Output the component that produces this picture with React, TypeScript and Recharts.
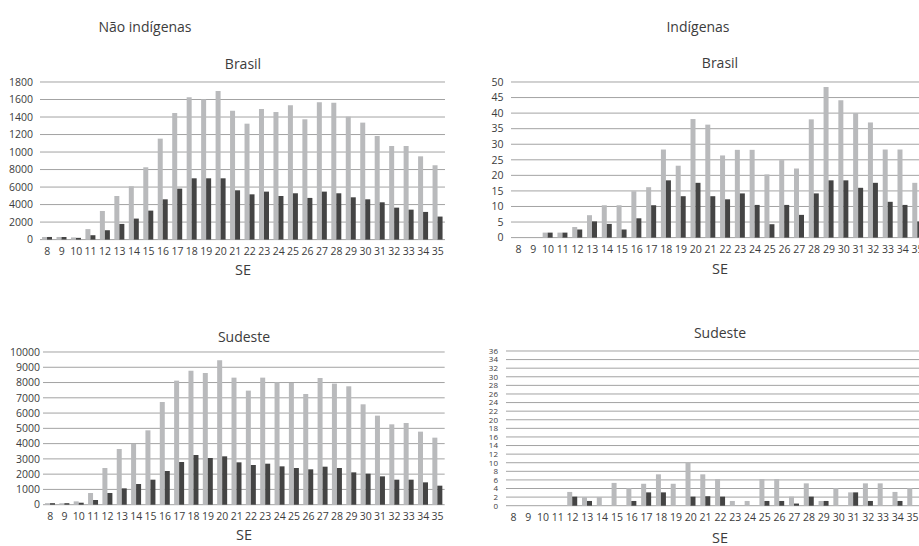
import React from "react"
import { BarChart, Bar, XAxis, YAxis, CartesianGrid } from "recharts"

const weeks = [
  "8", "9", "10", "11", "12", "13", "14", "15", "16", "17", "18", "19", "20", "21",
  "22", "23", "24", "25", "26", "27", "28", "29", "30", "31", "32", "33", "34", "35",
]

// Não indígenas - Brasil
const brasilNaoIndClaro = [
  30, 30, 25, 120, 327, 498, 609, 826, 1153, 1446, 1625, 1602, 1697, 1473,
  1324, 1491, 1457, 1534, 1374, 1568, 1564, 1404, 1336, 1183, 1069, 1069, 951, 849,
]
const brasilNaoIndEscuro = [
  30, 30, 20, 50, 107, 179, 240, 331, 460, 582, 700, 700, 700, 563,
  517, 548, 498, 529, 476, 548, 529, 483, 460, 426, 365, 342, 316, 263,
]
const brasilNaoIndTicks = [0, 200, 400, 600, 800, 1000, 1200, 1400, 1600, 1800]
const brasilNaoIndTickLabels = ["0", "2000", "4000", "6000", "8000", "1000", "1200", "1400", "1600", "1800"]

// Indígenas - Brasil
const brasilIndClaro = [
  0, 0, 1.6, 1.6, 3.4, 7.2, 10.4, 10.4, 14.9, 16.2, 28.3, 23.1, 38.1, 36.3,
  26.4, 28.2, 28.2, 20.3, 24.9, 22.2, 38, 48.4, 44.1, 40, 37, 28.3, 28.3, 17.6,
]
const brasilIndEscuro = [
  0, 0, 1.6, 1.6, 2.6, 5.2, 4.4, 2.6, 6.2, 10.4, 18.4, 13.3, 17.6, 13.3,
  12.3, 14.2, 10.5, 4.3, 10.5, 7.3, 14.2, 18.4, 18.4, 16, 17.6, 11.5, 10.5, 5.2,
]
const brasilIndTicks = [0, 5, 10, 15, 20, 25, 30, 35, 40, 45, 50]

// Não indígenas - Sudeste
const sudesteNaoIndClaro = [
  100, 100, 218, 764, 2402, 3647, 3975, 4870, 6727, 8124, 8780, 8626, 9456, 8321,
  7469, 8321, 8015, 7971, 7250, 8299, 7928, 7753, 6574, 5831, 5263, 5351, 4783, 4390,
]
const sudesteNaoIndEscuro = [
  100, 100, 130, 306, 764, 1070, 1354, 1638, 2206, 2795, 3254, 3057, 3167, 2774,
  2599, 2686, 2511, 2402, 2315, 2490, 2402, 2118, 2031, 1856, 1638, 1638, 1463, 1245,
]
const sudesteNaoIndTicks = [0, 1000, 2000, 3000, 4000, 5000, 6000, 7000, 8000, 9000, 10000]

// Indígenas - Sudeste
const sudesteIndClaro = [
  0, 0, 0, 0, 3.2, 2, 2, 5.3, 4.1, 5.1, 7.3, 5.1, 10, 7.3,
  6.2, 1.1, 1.1, 6.2, 6.2, 2.1, 5.2, 1.1, 4.1, 3.1, 5.2, 5.2, 3.2, 4.1,
]
const sudesteIndEscuro = [
  0, 0, 0, 0, 2.1, 1.1, 0, 0, 1.1, 3.1, 3.1, 0, 2.1, 2.2,
  2.1, 0, 0, 1.1, 1.1, 0.5, 2.1, 1.1, 0, 3.1, 1.1, 0, 1.1, 0,
]
const sudesteIndTicks = [0, 2, 4, 6, 8, 10, 12, 14, 16, 18, 20, 22, 24, 26, 28, 30, 32, 34, 36]

const FONT = "'Open Sans', 'Noto Sans', sans-serif"
const TEXT = "#3c3c3c"
const LIGHT = "#b9babc"
const DARK = "#444444"
const GRID = "#a3a3a3"

interface PanelProps {
  claro: number[]
  escuro: number[]
  ticks: number[]
  tickLabels?: string[]
  plotLeft: number
  plotRight: number
  plotTop: number
  plotBottom: number
  yWidth: number
  yMargin: number
  yFont: number
}

function Panel({ claro, escuro, ticks, tickLabels, plotLeft, plotRight, plotTop, plotBottom, yWidth, yMargin, yFont }: PanelProps) {
  const data = weeks.map((se, i) => ({ se, claro: claro[i], escuro: escuro[i] }))
  const left = plotLeft - yWidth
  const top = plotTop - 10
  const width = plotRight - left + 4
  const height = plotBottom + 26 - top
  const xh = 22
  return (
    <div style={{ position: "absolute", left, top, width, height }}>
      <BarChart
        width={width}
        height={height}
        data={data}
        margin={{ top: 10, right: 4, bottom: 26 - xh, left: 0 }}
        barCategoryGap="14%"
        barGap={0}
      >
        <CartesianGrid vertical={false} stroke={GRID} strokeWidth={1} />
        <XAxis
          dataKey="se"
          interval={0}
          tickLine={false}
          axisLine={false}
          tickSize={0}
          tickMargin={8}
          height={xh}
          tick={{ fontSize: 10.5, fill: TEXT, fontFamily: FONT }}
        />
        <YAxis
          domain={[0, ticks[ticks.length - 1]]}
          ticks={ticks}
          interval={0}
          width={yWidth}
          tickLine={false}
          axisLine={false}
          tickSize={0}
          tickMargin={yMargin}
          tick={{ fontSize: yFont, fill: TEXT, fontFamily: FONT }}
          tickFormatter={(v: number) => (tickLabels ? tickLabels[ticks.indexOf(v)] : String(v))}
        />
        <Bar dataKey="claro" fill={LIGHT} isAnimationActive={false} />
        <Bar dataKey="escuro" fill={DARK} isAnimationActive={false} />
      </BarChart>
    </div>
  )
}

function Label({ x, y, text, size }: { x: number; y: number; text: string; size: number }) {
  return (
    <div
      style={{
        position: "absolute",
        left: x,
        top: y,
        transform: "translate(-50%, -50%)",
        fontFamily: FONT,
        fontSize: size,
        color: TEXT,
        whiteSpace: "nowrap",
        lineHeight: 1,
      }}
    >
      {text}
    </div>
  )
}

export default function App() {
  return (
    <div
      style={{
        position: "absolute",
        left: 0,
        top: 0,
        width: 919,
        height: 546,
        overflow: "hidden",
        background: "#fff",
      }}
    >
      <Label x={145} y={27} text="Não indígenas" size={14} />
      <Label x={698} y={27} text="Indígenas" size={14} />

      <Label x={243} y={64} text="Brasil" size={14} />
      <Panel
        claro={brasilNaoIndClaro}
        escuro={brasilNaoIndEscuro}
        ticks={brasilNaoIndTicks}
        tickLabels={brasilNaoIndTickLabels}
        plotLeft={40}
        plotRight={445}
        plotTop={81.7}
        plotBottom={239.3}
        yWidth={40}
        yMargin={7}
        yFont={10.5}
      />
      <Label x={243} y={270} text="SE" size={14.5} />

      <Label x={720} y={63} text="Brasil" size={14} />
      <Panel
        claro={brasilIndClaro}
        escuro={brasilIndEscuro}
        ticks={brasilIndTicks}
        plotLeft={510.6}
        plotRight={924.6}
        plotTop={81.7}
        plotBottom={237.3}
        yWidth={46}
        yMargin={7.5}
        yFont={10.5}
      />
      <Label x={720} y={269} text="SE" size={14.5} />

      <Label x={244} y={337} text="Sudeste" size={14} />
      <Panel
        claro={sudesteNaoIndClaro}
        escuro={sudesteNaoIndEscuro}
        ticks={sudesteNaoIndTicks}
        plotLeft={43.3}
        plotRight={445}
        plotTop={352.3}
        plotBottom={505}
        yWidth={43}
        yMargin={3}
        yFont={10.5}
      />
      <Label x={244} y={535} text="SE" size={14.5} />

      <Label x={720} y={333} text="Sudeste" size={14} />
      <Panel
        claro={sudesteIndClaro}
        escuro={sudesteIndEscuro}
        ticks={sudesteIndTicks}
        plotLeft={506}
        plotRight={920}
        plotTop={351}
        plotBottom={505.7}
        yWidth={46}
        yMargin={8}
        yFont={8}
      />
      <Label x={720} y={538} text="SE" size={14.5} />
    </div>
  )
}
